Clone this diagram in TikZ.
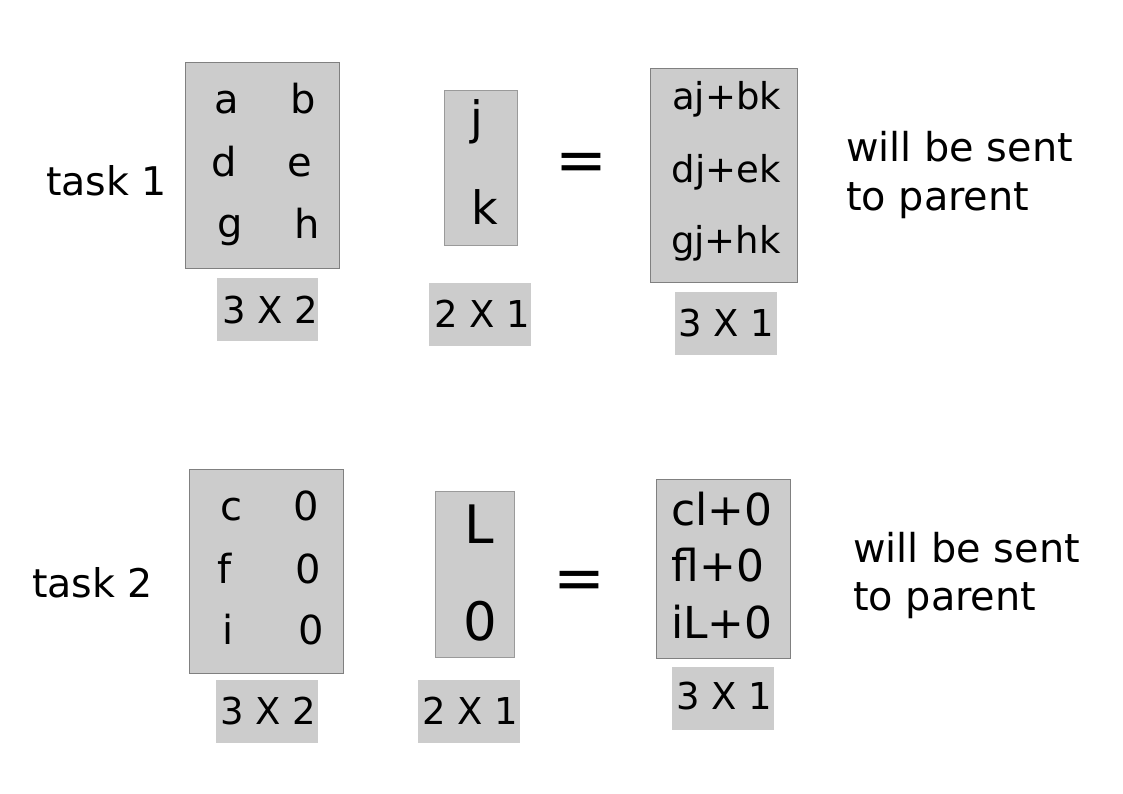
\documentclass[tikz,border=0pt]{standalone}
\usepackage{fontspec}
\setmainfont{DejaVu Sans}
\definecolor{boxfill}{HTML}{CCCCCC}
\definecolor{boxline}{HTML}{808080}
\definecolor{boxlinelight}{HTML}{9A9A9A}
\begin{document}
\begin{tikzpicture}[x=1pt,y=-1pt,
  mat/.style={rectangle, draw=boxline, fill=boxfill, line width=1pt, inner sep=0pt},
  vecbox/.style={mat, draw=boxlinelight},
  dimbox/.style={rectangle, fill=boxfill, inner sep=0pt, minimum width=102pt, minimum height=63pt},
  txt/.style={inner sep=0pt, anchor=base},
  tasklbl/.style={inner sep=0pt, anchor=base west, font=\fontsize{39.5}{46}\selectfont},
  ent/.style={txt, font=\fontsize{40}{48}\selectfont},
  vecA/.style={txt, font=\fontsize{46}{54}\selectfont},
  vecB/.style={txt, font=\fontsize{53}{60}\selectfont},
  resA/.style={txt, font=\fontsize{37}{44}\selectfont},
  resB/.style={txt, font=\fontsize{44}{50}\selectfont},
  dimlbl/.style={txt, font=\fontsize{37}{44}\selectfont},
  eqsign/.style={txt, font=\fontsize{62}{70}\selectfont},
  note/.style={inner sep=0pt, anchor=base west, font=\fontsize{39.8}{49}\selectfont}
]
\useasboundingbox (0,0) rectangle (1123,794);

% ---------- task 1 ----------
\node[tasklbl] (t1) at (46,196) {task 1};

\node[mat, minimum width=154pt, minimum height=205pt] (A1) at (262,165.5) {};
\node[ent] (a) at (227,114) {a};
\node[ent] (b) at (303,114) {b};
\node[ent] (d) at (224,177) {d};
\node[ent] (e) at (300,177) {e};
\node[ent] (g) at (230,237) {g};
\node[ent] (h) at (307,238) {h};
\node[dimbox, minimum width=101pt] (dA1) at (267.5,309.5) {};
\node[dimlbl] (dA1t) at (270,323) {3 X 2};

\node[vecbox, minimum width=73pt, minimum height=154pt] (V1) at (480.5,168) {};
\node[vecA] (j) at (477,135) {j};
\node[vecA] (k) at (485,225) {k};
\node[dimbox] (dV1) at (480,314.5) {};
\node[dimlbl] (dV1t) at (482,327) {2 X 1};

\node[eqsign] (eq1) at (581.5,182) {=};

\node[mat, minimum width=147pt, minimum height=213pt] (R1) at (723.5,175.5) {};
\node[resA] (r11) at (726.5,110) {aj+bk};
\node[resA] (r12) at (726,183) {dj+ek};
\node[resA] (r13) at (726,254) {gj+hk};
\node[dimbox] (dR1) at (726,323.5) {};
\node[dimlbl] (dR1t) at (726.5,336) {3 X 1};

\node[note] (n1a) at (846,162) {will be sent};
\node[note] (n1b) at (846,211) {to parent};

% ---------- task 2 ----------
\node[tasklbl] (t2) at (32,597) {task 2};

\node[mat, minimum width=154pt, minimum height=204pt] (A2) at (266,571) {};
\node[ent] (c) at (231,520) {c};
\node[ent] (z1) at (306,520) {0};
\node[ent] (f) at (225,583) {f};
\node[ent] (z2) at (308,583) {0};
\node[ent] (i) at (228,644) {i};
\node[ent] (z3) at (311,644) {0};
\node[dimbox] (dA2) at (266.5,711.5) {};
\node[dimlbl] (dA2t) at (268,724) {3 X 2};

\node[vecbox, minimum width=79pt, minimum height=166pt] (V2) at (474.5,574) {};
\node[vecB] (L) at (479,543) {L};
\node[vecB] (z4) at (480,640) {0};
\node[dimbox] (dV2) at (469,711.5) {};
\node[dimlbl] (dV2t) at (470,724) {2 X 1};

\node[eqsign] (eq2) at (579.5,599) {=};

\node[mat, minimum width=134pt, minimum height=179pt] (R2) at (723,568.5) {};
\node[resB] (r21) at (722,525) {cl+0};
\node[resB] (r22) at (718,581) {fl+0};
\node[resB] (r23) at (722,638) {iL+0};
\node[dimbox] (dR2) at (723,698) {};
\node[dimlbl] (dR2t) at (724,709) {3 X 1};

\node[note] (n2a) at (853,562) {will be sent};
\node[note] (n2b) at (853,610) {to parent};
\end{tikzpicture}
\end{document}
